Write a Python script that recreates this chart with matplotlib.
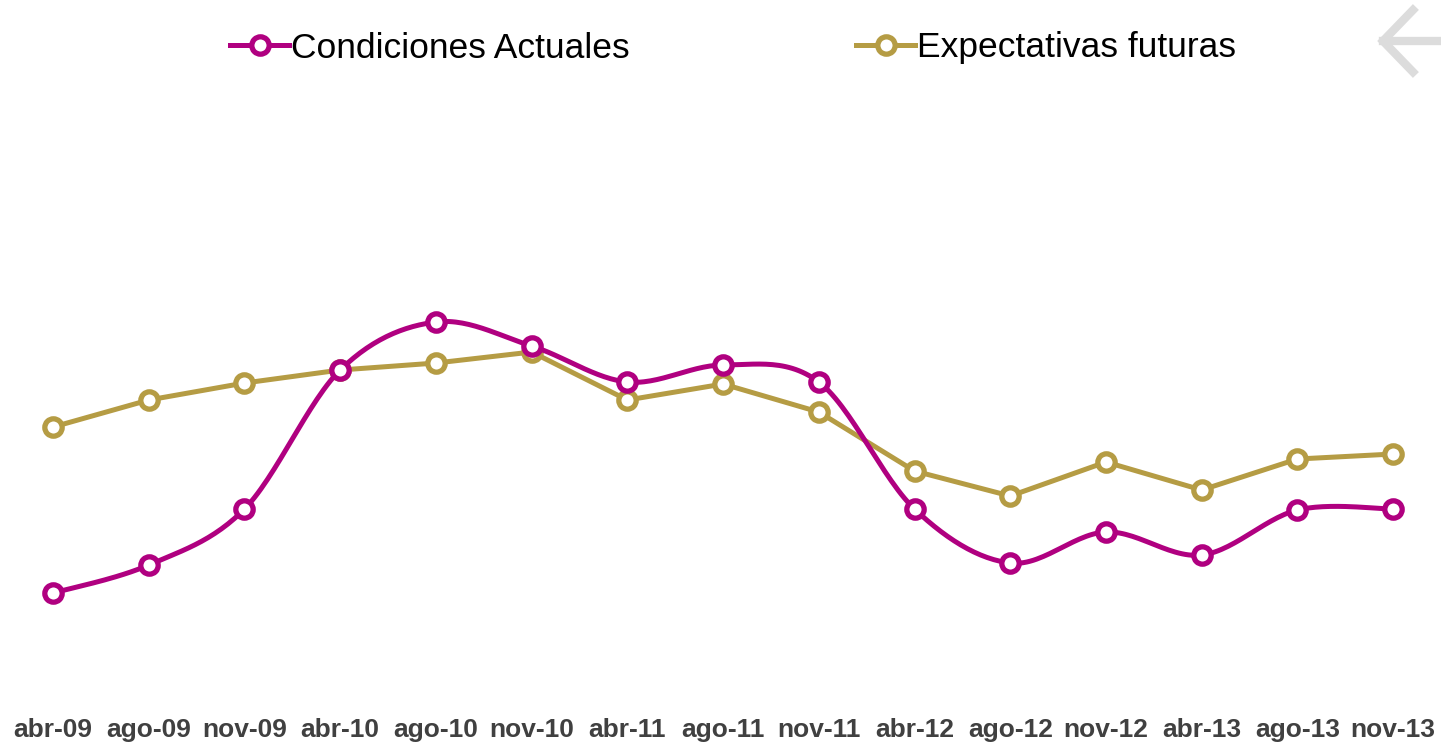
import numpy as np
import matplotlib.pyplot as plt
from matplotlib.lines import Line2D

periodos = ['abr-09', 'ago-09', 'nov-09', 'abr-10', 'ago-10', 'nov-10', 'abr-11', 'ago-11',
            'nov-11', 'abr-12', 'ago-12', 'nov-12', 'abr-13', 'ago-13', 'nov-13']
condiciones_actuales = [10.7, 13.5, 19.1, 33.0, 37.8, 35.4, 31.8, 33.5,
                        31.8, 19.1, 13.7, 16.8, 14.5, 19.0, 19.1]
expectativas_futuras = [27.3, 30.0, 31.7, 33.0, 33.7, 34.8, 30.0, 31.6,
                        28.8, 22.9, 20.4, 23.8, 21.0, 24.1, 24.6]

color_actual = '#B00080'
color_futuro = '#B59C44'


def suavizar(y, n=30):
    # curva tipo excel (bezier con tangentes catmull-rom)
    x = np.arange(len(y), dtype=float)
    y = np.asarray(y, dtype=float)
    px, py = [], []
    for i in range(len(y) - 1):
        i0 = max(i - 1, 0)
        i3 = min(i + 2, len(y) - 1)
        c1x = x[i] + (x[i + 1] - x[i0]) / 6
        c1y = y[i] + (y[i + 1] - y[i0]) / 6
        c2x = x[i + 1] - (x[i3] - x[i]) / 6
        c2y = y[i + 1] - (y[i3] - y[i]) / 6
        t = np.linspace(0, 1, n)
        bx = (1 - t)**3 * x[i] + 3 * (1 - t)**2 * t * c1x + 3 * (1 - t) * t**2 * c2x + t**3 * x[i + 1]
        by = (1 - t)**3 * y[i] + 3 * (1 - t)**2 * t * c1y + 3 * (1 - t) * t**2 * c2y + t**3 * y[i + 1]
        px.extend(bx)
        py.extend(by)
    return np.array(px), np.array(py)


fig = plt.figure(figsize=(14.41, 7.47), dpi=100)
ax = fig.add_axes([0, 0.0629, 1, 0.8166])

estilo_marca = dict(marker='o', mfc='white', ms=12.5, mew=3.8, ls='none')

idx = np.arange(len(periodos))
sx, sy = suavizar(condiciones_actuales)
ax.plot(idx, expectativas_futuras, color=color_futuro, lw=3.6, zorder=2)
ax.plot(idx, expectativas_futuras, color=color_futuro, zorder=3, **estilo_marca)
ax.plot(sx, sy, color=color_actual, lw=3.6, zorder=4)
ax.plot(idx, condiciones_actuales, color=color_actual, zorder=5, **estilo_marca)

ax.set_xlim(-0.554, 14.50)
ax.set_ylim(0, 61)
ax.set_xticks(idx)
ax.set_xticklabels(periodos, fontsize=19, fontweight='bold', color='#404040', family='Liberation Sans')
ax.tick_params(axis='x', length=0, pad=13)
ax.set_yticks([])
for s in ax.spines.values():
    s.set_visible(False)

h1 = Line2D([], [], color=color_actual, lw=3.6, marker='o', mfc='white', ms=12.5, mew=3.8)
h2 = Line2D([], [], color=color_futuro, lw=3.6, marker='o', mfc='white', ms=12.5, mew=3.8)
fig.legend([h1, h2], ['Condiciones Actuales', 'Expectativas futuras'],
           loc='center left', bbox_to_anchor=(230 / 1441, 1 - 48 / 747), ncol=2,
           frameon=False, handlelength=1.67, handletextpad=0.05, columnspacing=6.4,
           borderpad=0, borderaxespad=0,
           prop={'family': 'Liberation Sans', 'size': 25.5})

# flecha gris de la esquina
gris = '#DCDCDC'
fig.add_artist(Line2D([1383 / 1441, 1441 / 1441], [1 - 41 / 747, 1 - 41 / 747], color=gris, lw=6))
fig.add_artist(Line2D([1413 / 1441, 1383 / 1441, 1413 / 1441],
                      [1 - 10 / 747, 1 - 41 / 747, 1 - 72 / 747], color=gris, lw=6,
                      solid_joinstyle='miter'))

fig.savefig('out.png', dpi=100, facecolor='white')
